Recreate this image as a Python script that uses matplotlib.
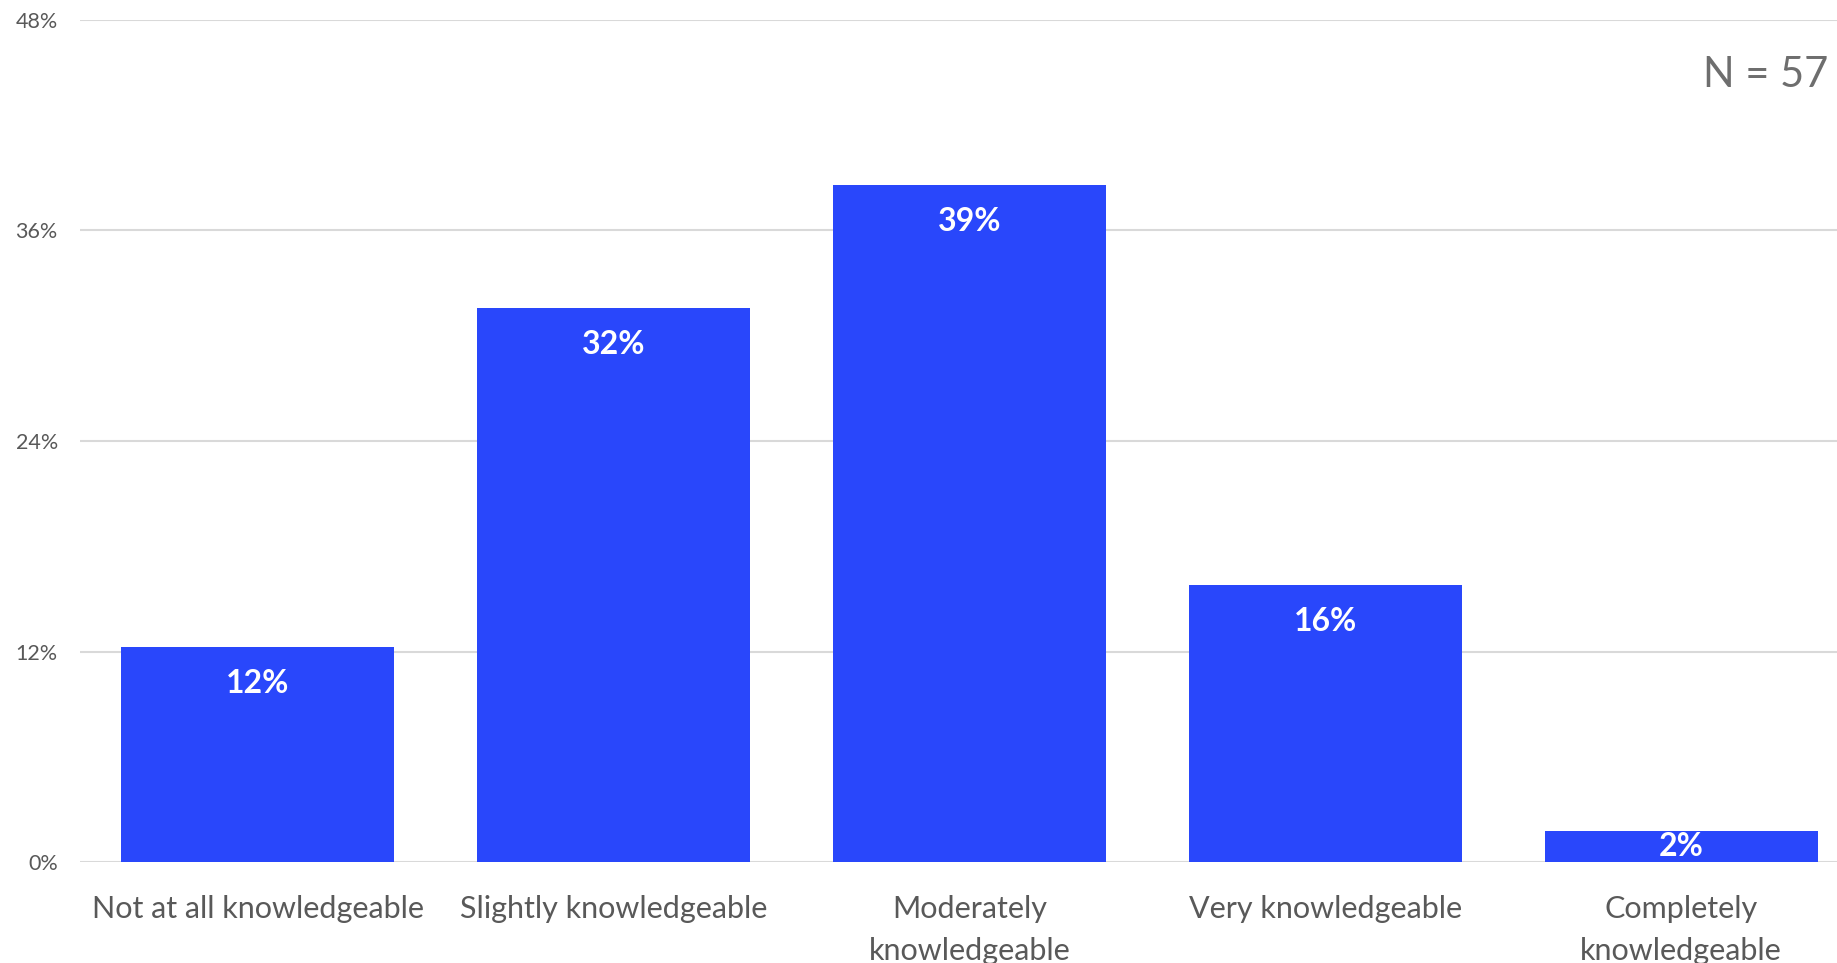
import matplotlib.pyplot as plt
import numpy as np

# survey answers, share of respondents in %
categories = ["Not at all knowledgeable", "Slightly knowledgeable", "Moderately\nknowledgeable",
              "Very knowledgeable", "Completely\nknowledgeable"]
values = [12.28, 31.58, 38.60, 15.79, 1.75]
labels = ["12%", "32%", "39%", "16%", "2%"]
yticks = [0, 12, 24, 36, 48]
n_text = "N = 57"

plt.rcParams['font.family'] = ['Lato', 'DejaVu Sans']
blue = '#2947fb'
grey = '#595959'

fig = plt.figure(figsize=(18.37, 9.63), dpi=100)
ax = fig.add_axes([80 / 1837, 101 / 963, 1779 / 1837, 842 / 963])

x = np.arange(len(categories))
ax.bar(x, values, width=0.767, color=blue, zorder=3)

for xi, v, lab in zip(x, values, labels):
    y = max(v - 2.1, v / 2)
    ax.text(xi, y, lab, ha='center', va='center', color='white',
            fontsize=23, fontweight='bold', zorder=4)

ax.set_xlim(-0.5, 4.5)
ax.set_ylim(0, 48)
ax.set_yticks(yticks)
ax.set_yticklabels([f"{t}%" for t in yticks], fontsize=15.5, color=grey)
ax.set_xticks(x)
ax.set_xticklabels(categories, fontsize=22, color=grey, linespacing=1.6)
ax.tick_params(axis='both', length=0)
ax.tick_params(axis='y', pad=16)
ax.tick_params(axis='x', pad=24)

ax.grid(axis='y', color='#d9d9d9', linewidth=1.5, zorder=0)
for s in ax.spines.values():
    s.set_visible(False)

fig.text(1828 / 1837, 1 - 75 / 963, n_text, ha='right', va='center',
         fontsize=30, color='#6e6e6e')

fig.savefig('out.png', dpi=100)
